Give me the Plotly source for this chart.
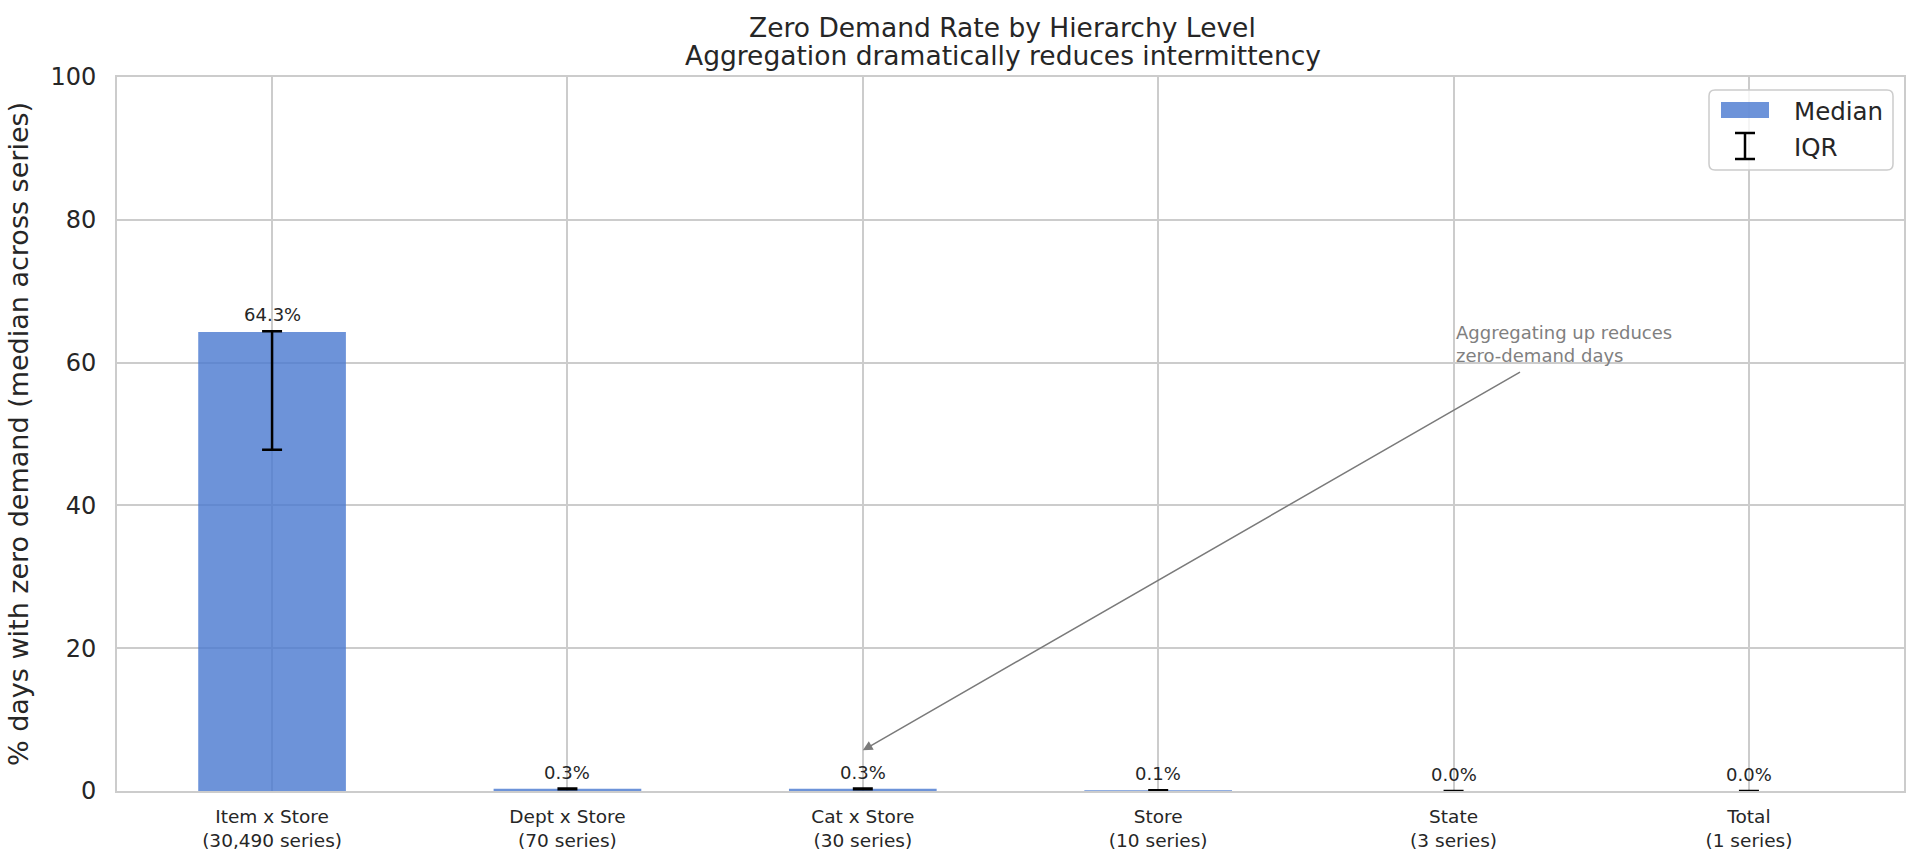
import plotly.graph_objects as go

# ---- data ----
levels = ["Item x Store", "Dept x Store", "Cat x Store", "Store", "State", "Total"]
series_counts = ["30,490 series", "70 series", "30 series", "10 series", "3 series", "1 series"]
median_zero_pct = [64.3, 0.3, 0.3, 0.1, 0.0, 0.0]
q25_zero_pct = [47.8, 0.25, 0.25, 0.08, 0.0, 0.0]
q75_zero_pct = [64.4, 0.35, 0.35, 0.12, 0.0, 0.0]
value_labels = [f"{v:.1f}%" for v in median_zero_pct]
tick_labels = [f"{a}<br>({b})" for a, b in zip(levels, series_counts)]

W, H = 1919, 867
L, R, T, B = 117, 15, 77, 76
PW = W - L - R
PH = H - T - B

BAR = "rgba(72,120,207,0.8)"
TXT = "#262626"
GRID = "#cccccc"
FONT = "DejaVu Sans"

x_idx = list(range(len(levels)))
err_plus = [q - m for q, m in zip(q75_zero_pct, median_zero_pct)]
err_minus = [m - q for m, q in zip(median_zero_pct, q25_zero_pct)]

fig = go.Figure()
fig.add_trace(go.Bar(
    x=x_idx, y=median_zero_pct, width=0.5,
    marker=dict(color=BAR, line=dict(width=0)),
    error_y=dict(type="data", symmetric=False, array=err_plus, arrayminus=err_minus,
                 color="black", thickness=2.5, width=10),
    showlegend=False, hoverinfo="skip",
))

annotations = []
for i, (v, lab) in enumerate(zip(median_zero_pct, value_labels)):
    annotations.append(dict(x=i, y=max(v, q75_zero_pct[i]) if i == 0 else v, xref="x", yref="y",
                            text=lab, showarrow=False, yanchor="bottom", yshift=4,
                            font=dict(family=FONT, size=18, color=TXT)))

# title (two lines)
annotations.append(dict(x=0.5, y=1, xref="paper", yref="paper", text="Zero Demand Rate by Hierarchy Level",
                        showarrow=False, yanchor="bottom", yshift=32, xshift=-8,
                        font=dict(family=FONT, size=26.5, color=TXT)))
annotations.append(dict(x=0.5, y=1, xref="paper", yref="paper", text="Aggregation dramatically reduces intermittency",
                        showarrow=False, yanchor="bottom", yshift=4, xshift=-8,
                        font=dict(family=FONT, size=26.5, color=TXT)))

# arrow annotation
annotations.append(dict(x=2, y=5.7, xref="x", yref="y", ax=4.23, ay=58.8, axref="x", ayref="y",
                        text="", showarrow=True, arrowhead=2, arrowsize=1.3, arrowwidth=1.5,
                        arrowcolor="#7a7a7a"))
annotations.append(dict(x=4.0, y=59.2, xref="x", yref="y", text="Aggregating up reduces<br>zero-demand days",
                        showarrow=False, xanchor="left", yanchor="bottom", align="left",
                        font=dict(family=FONT, size=18, color="#808080")))

# manual legend
def px2x(p):
    return (p - L) / PW

def py2y(p):
    return (H - B - p) / PH

lx0, lx1, ly0, ly1 = 1709, 1893, 90, 170
rx, ry = 6 / PW, 6 / PH
X0, X1, Y0, Y1 = px2x(lx0), px2x(lx1), py2y(ly1), py2y(ly0)
path = (f"M {X0+rx},{Y0} L {X1-rx},{Y0} Q {X1},{Y0} {X1},{Y0+ry} L {X1},{Y1-ry} "
        f"Q {X1},{Y1} {X1-rx},{Y1} L {X0+rx},{Y1} Q {X0},{Y1} {X0},{Y1-ry} L {X0},{Y0+ry} "
        f"Q {X0},{Y0} {X0+rx},{Y0} Z")
shapes = [
    dict(type="path", xref="paper", yref="paper", path=path,
         fillcolor="rgba(255,255,255,0.8)", line=dict(color="#cccccc", width=1.5), layer="above"),
    dict(type="rect", xref="paper", yref="paper", x0=px2x(1721), x1=px2x(1769), y0=py2y(118), y1=py2y(102),
         fillcolor=BAR, line=dict(width=0), layer="above"),
    dict(type="line", xref="paper", yref="paper", x0=px2x(1745), x1=px2x(1745), y0=py2y(159), y1=py2y(133),
         line=dict(color="black", width=2.5), layer="above"),
    dict(type="line", xref="paper", yref="paper", x0=px2x(1735), x1=px2x(1755), y0=py2y(133), y1=py2y(133),
         line=dict(color="black", width=2.5), layer="above"),
    dict(type="line", xref="paper", yref="paper", x0=px2x(1735), x1=px2x(1755), y0=py2y(159), y1=py2y(159),
         line=dict(color="black", width=2.5), layer="above"),
]
annotations.append(dict(x=px2x(1792), y=py2y(111), xref="paper", yref="paper", text="Median",
                        showarrow=False, xanchor="left", yanchor="middle",
                        font=dict(family=FONT, size=24.5, color=TXT)))
annotations.append(dict(x=px2x(1792), y=py2y(147), xref="paper", yref="paper", text="IQR",
                        showarrow=False, xanchor="left", yanchor="middle",
                        font=dict(family=FONT, size=24.5, color=TXT)))

fig.update_layout(
    width=W, height=H,
    margin=dict(l=L, r=R, t=T, b=B, pad=0),
    paper_bgcolor="white", plot_bgcolor="white",
    font=dict(family=FONT, color=TXT),
    annotations=annotations, shapes=shapes,
    bargap=0.5,
)
fig.update_xaxes(
    range=[-0.525, 5.525], tickmode="array", tickvals=x_idx, ticktext=tick_labels,
    tickfont=dict(family=FONT, size=18.5, color=TXT), ticks="", ticklabelstandoff=8,
    showgrid=True, gridcolor=GRID, gridwidth=2,
    showline=True, linecolor=GRID, linewidth=2, mirror=True, zeroline=False,
)
fig.update_yaxes(
    range=[0, 100], tickmode="array", tickvals=[0, 20, 40, 60, 80, 100],
    tickfont=dict(family=FONT, size=24, color=TXT), ticks="", ticklabelstandoff=14,
    showgrid=True, gridcolor=GRID, gridwidth=2,
    showline=True, linecolor=GRID, linewidth=2, mirror=True, zeroline=False,
    automargin=False,
    title=dict(text="% days with zero demand (median across series)",
               font=dict(family=FONT, size=27, color=TXT), standoff=14),
)

fig.write_html("out.html", config={"displayModeBar": False},
               post_script="document.body.style.margin='0';document.body.style.padding='0';document.body.style.overflow='hidden';")
